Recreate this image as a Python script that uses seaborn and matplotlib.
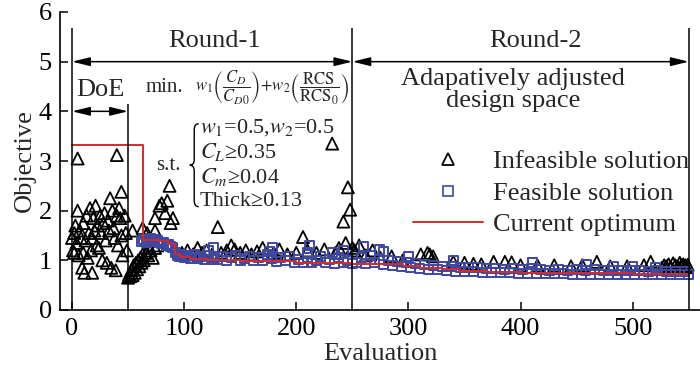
import numpy as np
import pandas as pd
import matplotlib.pyplot as plt
import seaborn as sns
from matplotlib.path import Path
from matplotlib.patches import PathPatch
from matplotlib.lines import Line2D

# infeasible solutions (triangles)
inf_x = [0, 1, 2, 2, 3, 4, 5, 5, 6, 7, 8, 9, 10, 10, 11, 12, 13, 14, 15, 16,
         17, 18, 18, 19, 20, 21, 22, 23, 24, 25, 26, 27, 28, 29, 30, 31, 32, 33, 34, 35,
         36, 37, 38, 39, 40, 40, 41, 42, 43, 44, 44, 45, 47, 48, 49,
         50, 51, 52, 53, 54, 55, 56, 57, 58, 59, 60, 61, 62, 63, 64, 66, 68, 70, 72, 74,
         54, 63, 67, 74, 74, 78, 80, 83, 85, 87, 88, 90, 69, 76,
         98, 103, 108, 112, 116, 120, 125, 130, 133, 138, 142, 145, 150, 155, 160, 165,
         170, 180, 185, 192, 200, 206, 210, 218, 225, 232, 235, 238, 242, 244, 246, 248, 250, 252,
         256, 262, 268, 275, 285, 295, 311, 317, 319, 322, 340, 350, 358, 365, 376, 386,
         392, 400, 415, 430, 445, 455, 468, 480, 495, 510, 516, 526, 528, 530, 532, 534,
         536, 538, 540, 542, 543, 545, 546, 547, 548, 549]
inf_y = [1.45, 1.2, 1.55, 1.15, 1.7, 1.35, 3.05, 2.0, 1.1, 1.6, 1.45, 0.85, 1.15, 1.75, 0.75, 1.4, 1.9, 1.05, 1.55, 2.05,
         1.2, 0.75, 1.45, 1.85, 1.6, 2.1, 1.3, 1.7, 1.25, 1.9, 1.55, 1.0, 1.75, 1.95, 1.4, 0.95, 1.8, 1.6, 2.25, 0.85,
         2.0, 1.65, 1.45, 0.8, 1.9, 3.12, 1.3, 2.05, 1.85, 1.5, 2.38, 1.1, 1.9, 1.55, 1.2,
         0.65, 0.72, 0.68, 0.8, 0.7, 0.9, 0.75, 0.95, 0.82, 1.0, 0.88, 1.05, 0.95, 1.12, 1.0, 1.15, 1.1, 1.2, 1.05, 1.25,
         1.6, 1.65, 1.55, 1.6, 1.85, 2.1, 2.15, 1.95, 2.2, 2.5, 1.75, 1.85, 1.25, 1.3,
         1.15, 1.2, 1.12, 1.25, 1.15, 1.2, 1.12, 1.67, 1.15, 1.2, 1.3, 1.22, 1.15, 1.2, 1.12, 1.18,
         1.25, 1.15, 1.22, 1.12, 1.15, 1.47, 1.2, 1.15, 1.22, 3.35, 1.15, 1.25, 1.78, 1.35, 2.47, 2.02, 1.25, 1.2,
         1.3, 1.1, 1.2, 1.05, 1.08, 1.0, 1.12, 1.15, 1.12, 1.08, 0.97, 0.95, 0.93, 0.92, 0.97, 0.97,
         0.96, 0.9, 0.9, 0.9, 0.88, 0.9, 0.97, 0.88, 0.88, 0.9, 0.97, 0.85, 0.9, 0.88, 0.92, 0.86,
         0.94, 0.9, 0.88, 0.95, 0.88, 0.92, 0.87, 0.9, 0.86, 0.91]

# feasible solutions (squares)
fea_x = [62, 64, 66, 68, 70, 72, 74, 76, 78, 80, 82, 84, 86, 88, 90,
         92, 94, 96, 98, 100, 103, 106, 109, 112, 115, 118, 121, 124, 127, 130,
         134, 138, 142, 146, 150, 154, 158, 162, 166, 170, 174, 178, 182, 186, 190,
         194, 198, 202, 206, 210, 214, 218, 222, 226, 230, 234, 238, 242, 246, 250,
         122, 126, 176, 179, 210, 212, 232, 242,
         254, 258, 262, 266, 270, 274, 278, 282, 286, 290, 294, 298, 302, 306, 310,
         314, 318, 322, 326, 330, 334, 338, 342, 346, 350, 354, 358, 362, 366, 370,
         374, 378, 382, 386, 390, 394, 398, 402, 406, 410, 414, 418, 422, 426, 430,
         434, 438, 442, 446, 450, 454, 458, 462, 466, 470, 474, 478, 482, 486, 490,
         494, 498, 502, 506, 510, 514, 518, 522, 526, 530, 534, 538, 542, 546, 550,
         260, 274, 278, 300, 340, 411, 459, 483, 500, 520]
fea_y = [1.38, 1.42, 1.36, 1.40, 1.44, 1.37, 1.41, 1.39, 1.35, 1.33, 1.36, 1.30, 1.32, 1.27, 1.25,
         1.15, 1.10, 1.08, 1.12, 1.06, 1.10, 1.04, 1.12, 1.03, 1.08, 1.02, 1.10, 1.01, 1.06, 1.02,
         1.08, 1.00, 1.05, 1.10, 0.99, 1.04, 1.08, 1.00, 1.06, 0.99, 1.12, 1.03, 0.98, 1.05, 1.00,
         1.08, 0.96, 1.02, 0.96, 1.06, 0.95, 1.00, 1.08, 0.95, 1.02, 0.94, 1.05, 0.96, 1.00, 0.94,
         1.20, 1.25, 1.18, 1.25, 1.15, 1.30, 1.15, 1.20,
         0.96, 1.05, 0.93, 1.10, 0.95, 1.02, 0.92, 1.00, 0.90, 0.98, 0.88, 0.95, 0.86, 0.93, 0.84,
         0.92, 0.82, 0.90, 0.81, 0.88, 0.80, 0.87, 0.78, 0.86, 0.78, 0.85, 0.77, 0.86, 0.76, 0.84,
         0.76, 0.83, 0.75, 0.82, 0.75, 0.83, 0.74, 0.82, 0.74, 0.84, 0.73, 0.81, 0.73, 0.80, 0.73,
         0.81, 0.73, 0.80, 0.72, 0.81, 0.72, 0.80, 0.72, 0.81, 0.72, 0.79, 0.72, 0.80, 0.71, 0.79,
         0.71, 0.80, 0.71, 0.79, 0.71, 0.78, 0.71, 0.79, 0.71, 0.78, 0.72, 0.78, 0.72, 0.77, 0.72,
         1.27, 1.22, 1.18, 1.08, 1.00, 0.95, 0.92, 0.87, 0.87, 0.85]

# current optimum (step line)
opt_x = [0, 63, 78, 86, 92, 96, 105, 120, 150, 175, 200, 215, 250, 280, 295, 310,
         330, 345, 370, 400, 450, 500, 530, 550]
opt_y = [3.33, 1.40, 1.38, 1.32, 1.12, 1.06, 1.03, 1.00, 0.99, 0.98, 0.95, 0.94, 0.93, 0.92, 0.88, 0.85,
         0.82, 0.79, 0.77, 0.75, 0.74, 0.73, 0.72, 0.72]

round_bounds = [0, 250, 550]
doe_end = 50

sns.set_theme(style='ticks')
plt.rcParams['font.family'] = ['Liberation Serif', 'DejaVu Serif']
plt.rcParams['mathtext.fontset'] = 'stix'

fig = plt.figure(figsize=(7, 3.7), dpi=100)
ax = fig.add_axes([60 / 700, 60 / 370, 640 / 700, 298 / 370])

blue = '#3f48a0'
red = '#d42a2a'
fs = 19

inf_df = pd.DataFrame({'Evaluation': inf_x, 'Objective': inf_y})
fea_df = pd.DataFrame({'Evaluation': fea_x, 'Objective': fea_y})
opt_df = pd.DataFrame({'Evaluation': opt_x, 'Objective': opt_y})

sns.scatterplot(data=inf_df, x='Evaluation', y='Objective', marker='^', s=75,
                facecolor='none', edgecolor='black', linewidth=1.3, ax=ax, zorder=2)
sns.scatterplot(data=fea_df, x='Evaluation', y='Objective', marker='s', s=42,
                facecolor='none', edgecolor=blue, linewidth=1.4, ax=ax, zorder=3)
sns.lineplot(data=opt_df, x='Evaluation', y='Objective', color=red, lw=1.4,
             drawstyle='steps-post', ax=ax, zorder=4)

# round boundaries and arrows
ax.vlines(round_bounds, 0, 5.67, color='black', lw=1.1, zorder=5)
ax.vlines(doe_end, 0, 4.15, color='black', lw=1.1, zorder=5)
arr = dict(arrowstyle='<|-|>,head_length=0.9,head_width=0.22', color='black', lw=1.1,
           shrinkA=0, shrinkB=0)
ax.annotate('', xy=(round_bounds[0], 5), xytext=(round_bounds[1], 5), arrowprops=arr)
ax.annotate('', xy=(round_bounds[1], 5), xytext=(round_bounds[2], 5), arrowprops=arr)
ax.annotate('', xy=(0, 4), xytext=(doe_end, 4), arrowprops=arr)

ax.text(127, 5.42, 'Round-1', ha='center', va='center', fontsize=fs)
ax.text(413, 5.42, 'Round-2', ha='center', va='center', fontsize=fs)
ax.text(25, 4.43, 'DoE', ha='center', va='center', fontsize=fs)
ax.text(393, 4.42, 'Adapatively adjusted\ndesign space', ha='center', va='center',
        fontsize=fs, linespacing=1.0)

ax.text(82, 4.47, 'min.', ha='center', va='center', fontsize=15)
ax.text(110, 4.47, r'$w_1\left(\dfrac{C_D}{C_{D0}}\right){+}w_2\left(\dfrac{\mathrm{RCS}}{\mathrm{RCS}_0}\right)$',
        ha='left', va='center', fontsize=12)
ax.text(86, 2.9, 's.t.', ha='center', va='center', fontsize=15)
cons = [r'$w_1$=0.5,$w_2$=0.5', r'$C_L$≥0.35', r'$C_m$≥0.04', 'Thick≥0.13']
for i, c in enumerate(cons):
    ax.text(114, 3.68 - i * 0.5, c, ha='left', va='center', fontsize=16,
            family=['Liberation Serif', 'DejaVu Sans'])

# curly brace
bx, by0, by1, bw = 113, 2.08, 3.75, 8
bm, ymid, h = bx - bw / 2, (by0 + by1) / 2, 0.12
verts = [(bx, by1), (bm, by1), (bm, by1 - h), (bm, ymid + h), (bm, ymid), (bx - bw, ymid),
         (bm, ymid), (bm, ymid - h), (bm, by0 + h), (bm, by0), (bx, by0)]
codes = [Path.MOVETO, Path.CURVE3, Path.CURVE3, Path.LINETO, Path.CURVE3, Path.CURVE3,
         Path.CURVE3, Path.CURVE3, Path.LINETO, Path.CURVE3, Path.CURVE3]
ax.add_patch(PathPatch(Path(verts, codes), fill=False, lw=1.0, color='black'))

# legend
handles = [Line2D([], [], marker='^', ls='none', mfc='none', mec='black', ms=8, mew=1.3),
           Line2D([], [], marker='s', ls='none', mfc='none', mec=blue, ms=6.5, mew=1.2),
           Line2D([], [], color=red, lw=1.4)]
labels = ['Infeasible solution', 'Feasible solution', 'Current optimum']
fig.legend(handles, labels, loc='upper left', bbox_to_anchor=(413 / 700, 1 - 150 / 370),
           frameon=False, fontsize=fs, borderpad=0, handlelength=2.65, handletextpad=0.4,
           labelspacing=0.3, borderaxespad=0)

ax.set_xlim(-10.7, 560)
ax.set_ylim(0, 6)
ax.set_xticks([0, 100, 200, 300, 400, 500])
ax.set_yticks([0, 1, 2, 3, 4, 5, 6])
ax.tick_params(direction='in', length=6, width=1.1, labelsize=fs, pad=6, colors='black')
ax.set_xlabel('Evaluation', fontsize=fs, labelpad=2)
ax.set_ylabel('Objective', fontsize=fs, labelpad=2)
for s in ['top', 'right']:
    ax.spines[s].set_visible(False)
for s in ['left', 'bottom']:
    ax.spines[s].set_linewidth(1.2)
    ax.spines[s].set_color('black')
ax.set_facecolor('white')

fig.savefig('out.png', dpi=100, facecolor='white')
